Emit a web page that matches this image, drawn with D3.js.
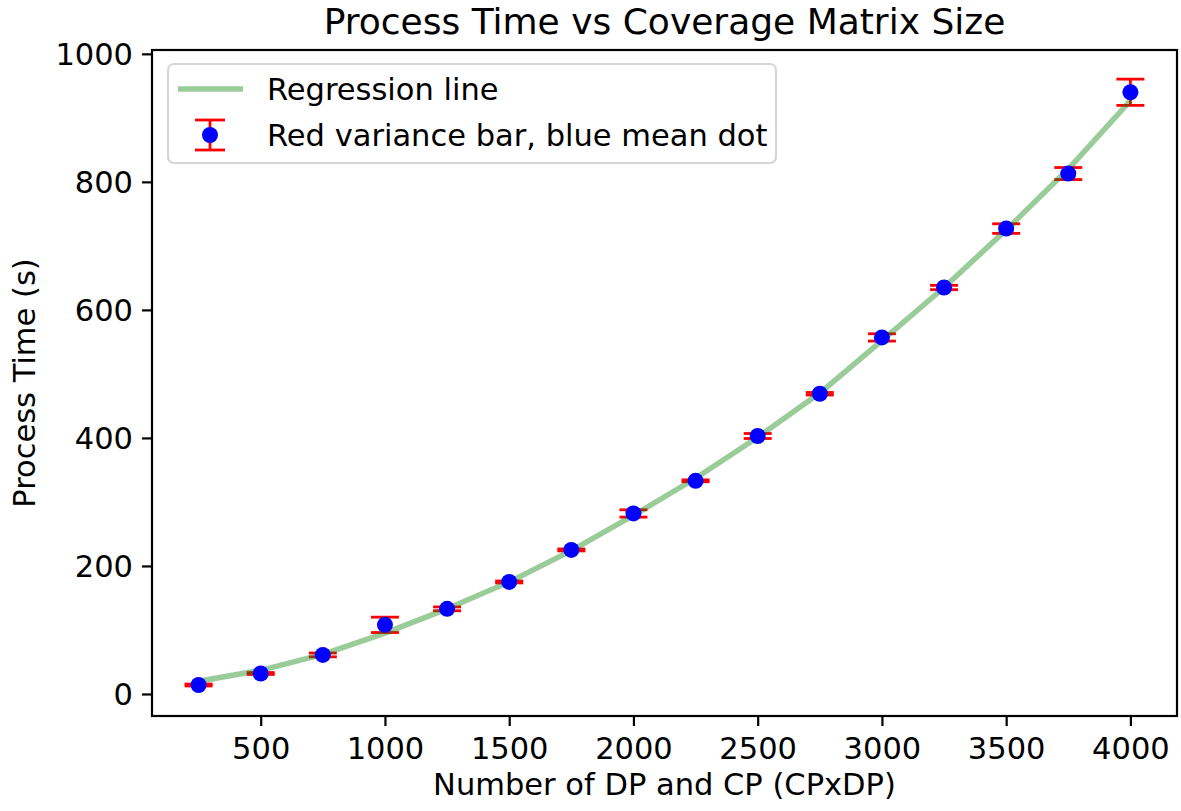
<!DOCTYPE html>
<html>
<head>
<meta charset="utf-8">
<script src="https://cdn.jsdelivr.net/npm/d3@7"></script>
<style>
  html, body { margin: 0; padding: 0; background: #fff; }
  svg { display: block; }
  text { font-family: "DejaVu Sans", sans-serif; fill: #000; }
</style>
</head>
<body>
<script>
// ---- data ----
const matrixSizes = [250, 500, 750, 1000, 1250, 1500, 1750, 2000, 2250, 2500, 2750, 3000, 3250, 3500, 3750, 4000];
const meanTimes   = [14, 32, 61, 108, 133, 175, 225, 282, 333, 403, 469, 557, 635, 727, 813, 940];
const variances   = [1.5, 1.5, 3, 12, 3, 1.5, 1.5, 5.7, 1.5, 3.9, 2, 5.7, 3.4, 7.5, 9.4, 20.5];
const regression  = [20, 37, 62, 95, 133, 175, 224, 279, 337, 401, 470, 552, 635, 725, 820, 927];
const xTicks = [500, 1000, 1500, 2000, 2500, 3000, 3500, 4000];
const yTicks = [0, 200, 400, 600, 800, 1000];
const titleText = "Process Time vs Coverage Matrix Size";
const xLabelText = "Number of DP and CP (CPxDP)";
const yLabelText = "Process Time (s)";
const legendLabels = ["Regression line", "Red variance bar, blue mean dot"];

const W = 1181, H = 811;
const FS = 30.5, TFS = 36;
const plot = { left: 152, right: 1177, top: 50, bottom: 716 };

const svg = d3.select("body").append("svg").attr("width", W).attr("height", H);

const x = d3.scaleLinear().domain([62.5, 4187.5]).range([plot.left, plot.right]);
const y = d3.scaleLinear().domain([-34.4, 1006]).range([plot.bottom, plot.top]);

const rows = matrixSizes.map((s, i) => ({ x: s, m: meanTimes[i], e: variances[i], r: regression[i] }));

// error bars
const eb = svg.append("g");
eb.selectAll("line.v").data(rows).enter().append("line")
  .attr("x1", d => x(d.x)).attr("x2", d => x(d.x))
  .attr("y1", d => y(d.m - d.e)).attr("y2", d => y(d.m + d.e))
  .attr("stroke", "#ff0000").attr("stroke-width", 2.8);
[-1, 1].forEach(s => {
  eb.selectAll("line.c" + (s > 0 ? "p" : "n")).data(rows).enter().append("line")
    .attr("x1", d => x(d.x) - 14).attr("x2", d => x(d.x) + 14)
    .attr("y1", d => y(d.m + s * d.e)).attr("y2", d => y(d.m + s * d.e))
    .attr("stroke", "#ff0000").attr("stroke-width", 2.8);
});

// regression line
svg.append("path").datum(rows)
  .attr("d", d3.line().x(d => x(d.x)).y(d => y(d.r)))
  .attr("fill", "none").attr("stroke", "#008000").attr("stroke-opacity", 0.4)
  .attr("stroke-width", 5.5).attr("stroke-linejoin", "round");

// mean dots
svg.append("g").selectAll("circle").data(rows).enter().append("circle")
  .attr("cx", d => x(d.x)).attr("cy", d => y(d.m)).attr("r", 8)
  .attr("fill", "#0000ff");

// axes
const xAxis = svg.append("g").attr("transform", `translate(0,${plot.bottom})`)
  .call(d3.axisBottom(x).tickValues(xTicks).tickSize(10).tickPadding(9).tickFormat(d3.format("d")));
const yAxis = svg.append("g").attr("transform", `translate(${plot.left},0)`)
  .call(d3.axisLeft(y).tickValues(yTicks).tickSize(10).tickPadding(9).tickFormat(d3.format("d")));
[xAxis, yAxis].forEach(a => {
  a.select(".domain").remove();
  a.selectAll(".tick line").attr("stroke", "#000").attr("stroke-width", 2.2);
  a.selectAll(".tick text").attr("font-size", FS).attr("font-family", "DejaVu Sans");
});
xAxis.selectAll(".tick text").attr("dy", "0.78em");
yAxis.selectAll(".tick text").attr("dy", "0.36em");

// frame
svg.append("rect").attr("x", plot.left).attr("y", plot.top)
  .attr("width", plot.right - plot.left).attr("height", plot.bottom - plot.top)
  .attr("fill", "none").attr("stroke", "#000").attr("stroke-width", 2.2);

// title & labels
svg.append("text").attr("x", (plot.left + plot.right) / 2).attr("y", 34)
  .attr("text-anchor", "middle").attr("font-size", TFS).text(titleText);
svg.append("text").attr("x", (plot.left + plot.right) / 2).attr("y", 795)
  .attr("text-anchor", "middle").attr("font-size", FS).text(xLabelText);
svg.append("text").attr("transform", `translate(35,${(plot.top + plot.bottom) / 2}) rotate(-90)`)
  .attr("text-anchor", "middle").attr("font-size", FS).text(yLabelText);

// legend
const lg = svg.append("g");
lg.append("rect").attr("x", 168).attr("y", 64).attr("width", 608).attr("height", 99)
  .attr("rx", 6).attr("fill", "#fff").attr("fill-opacity", 0.8)
  .attr("stroke", "#d6d6d6").attr("stroke-width", 2.2);
lg.append("line").attr("x1", 178).attr("x2", 243).attr("y1", 89).attr("y2", 89)
  .attr("stroke", "#008000").attr("stroke-opacity", 0.4).attr("stroke-width", 5.5);
const lx = 210, ly = 135;
lg.append("line").attr("x1", lx).attr("x2", lx).attr("y1", ly - 15).attr("y2", ly + 15)
  .attr("stroke", "#ff0000").attr("stroke-width", 2.8);
[-15, 15].forEach(o => lg.append("line").attr("x1", lx - 15).attr("x2", lx + 15)
  .attr("y1", ly + o).attr("y2", ly + o).attr("stroke", "#ff0000").attr("stroke-width", 2.8));
lg.append("circle").attr("cx", lx).attr("cy", ly).attr("r", 8).attr("fill", "#0000ff");
lg.append("text").attr("x", 267).attr("y", 100).attr("font-size", FS).text(legendLabels[0]);
lg.append("text").attr("x", 267).attr("y", 146).attr("font-size", FS).text(legendLabels[1]);
</script>
</body>
</html>
